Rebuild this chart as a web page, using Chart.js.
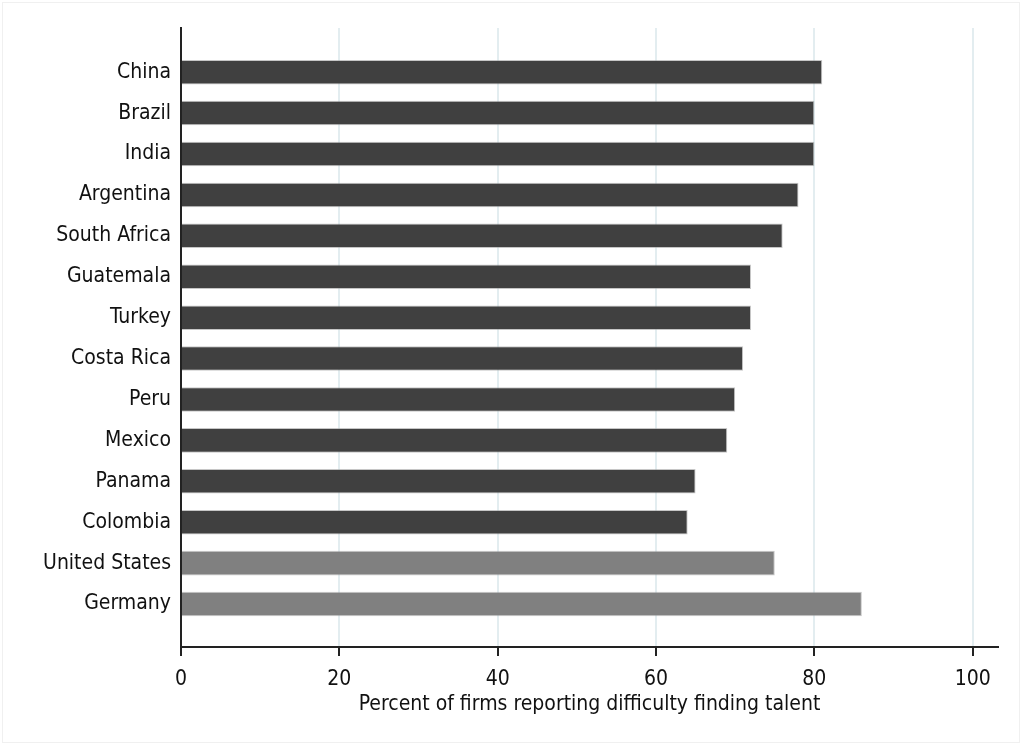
<!DOCTYPE html>
<html>
<head>
<meta charset="utf-8">
<script src="https://cdn.jsdelivr.net/npm/chart.js@4/dist/chart.umd.min.js"></script>
<style>
  html, body { margin: 0; padding: 0; background: #fff; }
  #wrap { position: relative; width: 1024px; height: 747px; }
  #frame { position: absolute; left: 2px; top: 2px; width: 1018px; height: 741px; border: 1px solid #f0f0f0; box-sizing: border-box; pointer-events: none; }
</style>
</head>
<body>
<div id="wrap">
  <canvas id="grafico" width="1024" height="747"></canvas>
  <div id="frame"></div>
</div>
<script>
// dados
const paises = ["China", "Brazil", "India", "Argentina", "South Africa", "Guatemala", "Turkey",
  "Costa Rica", "Peru", "Mexico", "Panama", "Colombia", "United States", "Germany"];
const percentuais = [81, 80, 80, 78, 76, 72, 72, 71, 70, 69, 65, 64, 75, 86];
const grupo = ["lac", "lac", "lac", "lac", "lac", "lac", "lac", "lac", "lac", "lac", "lac", "lac", "ref", "ref"];
const ticksX = [0, 20, 40, 60, 80, 100];
const tituloX = "Percent of firms reporting difficulty finding talent";

const fonte = "'Liberation Sans Narrow', 'Arial Narrow', 'DejaVu Sans Condensed', sans-serif";
const cores = { lac: "#404040", ref: "#808080" };

const ctx = document.getElementById('grafico');

new Chart(ctx, {
    type: "bar",
    data: {
        datasets: [{
            data: paises.map((p, i) => ({ x: percentuais[i], y: i })),
            backgroundColor: grupo.map(g => cores[g]),
            borderColor: "rgba(160,160,160,0.6)",
            borderWidth: 1,
            barPercentage: 0.6,
            categoryPercentage: 1
        }]
    },
    options: {
        indexAxis: "y",
        responsive: false,
        animation: false,
        layout: { padding: { top: 28, right: 26, left: 0, bottom: 0 } },
        plugins: { legend: { display: false }, tooltip: { enabled: false } },
        scales: {
            x: {
                type: "linear",
                min: 0,
                max: 103.2,
                afterBuildTicks: s => { s.ticks = ticksX.map(v => ({ value: v })); },
                afterFit: s => { s.height = 100; },
                grid: {
                    color: c => c.tick && c.tick.value === 0 ? "rgba(0,0,0,0)" : "#e3edf0",
                    lineWidth: 2,
                    tickColor: "#222",
                    tickLength: 9,
                    tickWidth: 2
                },
                border: { display: true, color: "#222", width: 2 },
                ticks: { color: "#111", font: { family: fonte, size: 21 }, padding: 11, maxRotation: 0 },
                title: {
                    display: true,
                    text: tituloX,
                    color: "#111",
                    font: { family: fonte, size: 21 },
                    padding: { top: 0, bottom: 30 }
                }
            },
            y: {
                type: "linear",
                reverse: true,
                offset: false,
                min: -1.08,
                max: 14.05,
                afterBuildTicks: s => { s.ticks = paises.map((p, i) => ({ value: i })); },
                afterFit: s => { s.width = 181; },
                grid: { display: false, drawTicks: false },
                border: { display: true, color: "#222", width: 2 },
                ticks: {
                    color: "#111",
                    font: { family: fonte, size: 21 },
                    padding: 10,
                    callback: v => paises[v]
                }
            }
        }
    }
});
</script>
</body>
</html>
